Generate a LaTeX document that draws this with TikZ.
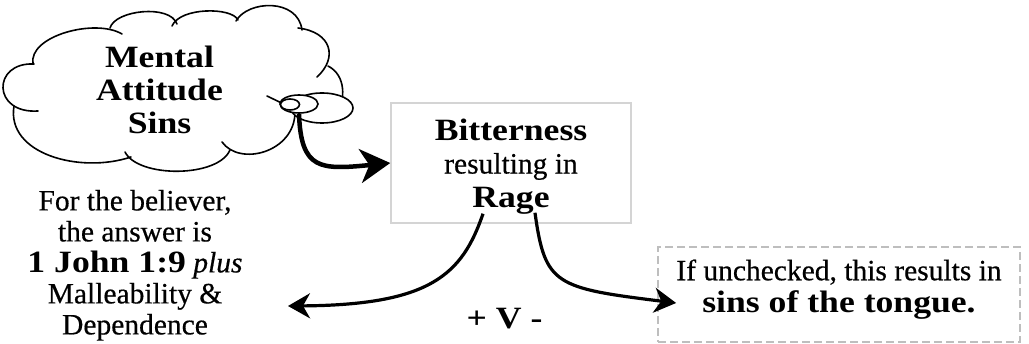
\documentclass[tikz,border=0pt]{standalone}
\usepackage{fontspec}
\setmainfont{Liberation Serif}[UprightFeatures={FakeBold=0.5},ItalicFeatures={FakeBold=0.5},BoldFeatures={FakeStretch=1.15}]
\usetikzlibrary{arrows.meta,shapes.geometric,calc}
\newcommand\bd[1]{{\fontsize{31}{31}\selectfont\bfseries #1}}
\definecolor{boxgray}{RGB}{212,212,212}
\definecolor{dashgray}{RGB}{190,190,190}
\begin{document}
\begin{tikzpicture}[x=1pt,y=-1pt,
  lobe/.style={line width=1.6pt,line cap=round},
  bub/.style={ellipse,draw,line width=1.6pt,fill=white,inner sep=0pt},
  txt/.style={align=center,inner sep=0pt,font=\fontsize{29.5}{31}\selectfont},
  graybox/.style={draw=boxgray,line width=1.5pt,inner sep=0pt},
  dashbox/.style={draw=dashgray,line width=1.7pt,dash pattern=on 8pt off 4pt,inner sep=0pt},
  bigarrow/.style={line width=4.5pt,-{Stealth[length=30pt,width=34pt,inset=9pt]}},
  arr/.style={line width=3.2pt,-{Stealth[length=22pt,width=25pt,inset=7pt]}}
]
\useasboundingbox (0,0) rectangle (1029,344);
% cloud
\draw[lobe] (33,64) .. controls (28,36) and (95,18) .. (122,34);
\draw[lobe] (110,28) .. controls (115,10) and (170,4) .. (177,24);
\draw[lobe] (172,26) .. controls (180,7) and (232,7) .. (238,20);
\draw[lobe] (236,21) .. controls (248,0) and (298,-2) .. (302,30);
\draw[lobe] (298,28) .. controls (332,32) and (338,58) .. (317,77);
\draw[lobe] (328,66) .. controls (346,75) and (346,100) .. (336,115);
\draw[lobe] (295,112) .. controls (295,152) and (240,167) .. (222,142);
\draw[lobe] (230,150) .. controls (218,178) and (138,178) .. (125,152);
\draw[lobe] (131,157) .. controls (80,174) and (6,154) .. (14,106);
\draw[lobe] (38,111) .. controls (-8,114) and (-8,62) .. (34,64);
\draw[lobe] (267,96) -- (292,108);
\node[txt,font=\fontsize{31}{33}\selectfont\bfseries] (mas) at (159.5,89.7) {Mental\\Attitude\\Sins};
% thought bubbles
\node[bub,minimum width=62pt,minimum height=30pt] (bigb) at (322,108) {};
\node[bub,minimum width=38pt,minimum height=18pt] (medb) at (299,104) {};
\node[bub,minimum width=19pt,minimum height=11pt] (smallb) at (290,104.5) {};
% bitterness box
\node[graybox,minimum width=240pt,minimum height=120pt] (box) at (511,163) {};
\node[txt,font=\fontsize{29.5}{33.5}\selectfont] (boxtxt) at (511,166.2) {\bd{Bitterness}\\resulting in\\\bd{Rage}};
\draw[bigarrow] (medb.south) .. controls (301,170) and (320,170) .. (box.west);
% left text
\node[txt] (answer) at (135,265.3) {For the believer,\\the answer is\\\bd{1 John 1:9} \textit{plus}\\Malleability \&\\Dependence};
% tongue box
\node[dashbox,minimum width=362pt,minimum height=95pt] (tongue) at (839,294.5) {};
\node[txt,font=\fontsize{29.5}{32}\selectfont] (tonguetxt) at (839,289.3) {If unchecked, this results in\\\bd{sins of the tongue.}};
% +V-
\node[inner sep=0pt,anchor=base] (pv) at (504.5,329) {\bd{+ V -}};
% arrows from Rage
\coordinate (lend) at (288,306);
\draw[arr] ($(box.south)+(-28,-10)$) .. controls (462,275) and (430,305) .. (lend);
\draw[arr] ($(box.south)+(24,-11)$) .. controls (545,285) and (555,288) .. ($(tongue.west)+(19,8.5)$);
\end{tikzpicture}
\end{document}
